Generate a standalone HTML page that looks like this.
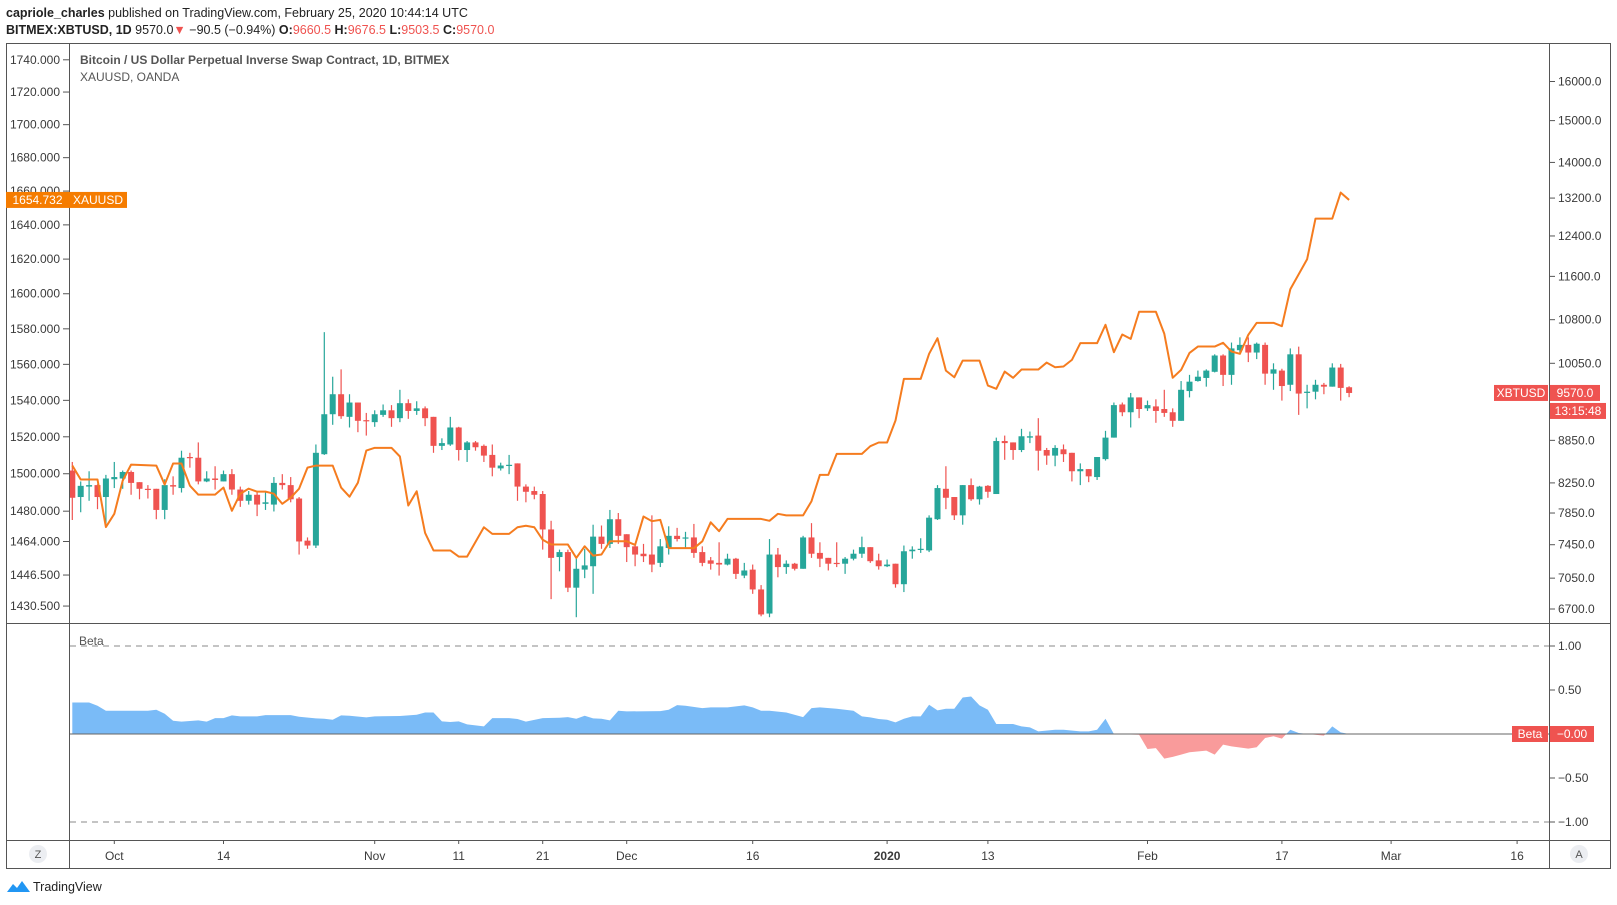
<!DOCTYPE html>
<html><head><meta charset="utf-8">
<style>
html,body{margin:0;padding:0;background:#fff;}
svg{display:block;font-family:"Liberation Sans",Arial,sans-serif;}
.ax{font-size:12px;fill:#3a3a3a;}
</style></head>
<body>
<svg id="chart" width="1617" height="905" viewBox="0 0 1617 905" xmlns="http://www.w3.org/2000/svg">
  <rect x="0" y="0" width="1617" height="905" fill="#fff"/>
  <text x="6" y="17" font-size="12.5" fill="#222"><tspan font-weight="bold">capriole_charles</tspan> published on TradingView.com, February 25, 2020 10:44:14 UTC</text>
  <text x="6" y="34" font-size="12.5" fill="#222"><tspan font-weight="bold">BITMEX:XBTUSD, 1D</tspan> 9570.0<tspan fill="#ef5350">▼</tspan> −90.5 (−0.94%) <tspan font-weight="bold">O:</tspan><tspan fill="#ef5350">9660.5</tspan> <tspan font-weight="bold">H:</tspan><tspan fill="#ef5350">9676.5</tspan> <tspan font-weight="bold">L:</tspan><tspan fill="#ef5350">9503.5</tspan> <tspan font-weight="bold">C:</tspan><tspan fill="#ef5350">9570.0</tspan></text>

  <g id="frame" stroke="#555" stroke-width="1" fill="none">
    <rect x="6.5" y="43.5" width="1604" height="825"/>
    <line x1="69.5" y1="43" x2="69.5" y2="868"/>
    <line x1="1549.5" y1="43" x2="1549.5" y2="868"/>
    <line x1="6" y1="623.5" x2="1611" y2="623.5"/>
    <line x1="6" y1="840.5" x2="1611" y2="840.5"/>
  </g>

  <text x="80" y="64" font-size="12" font-weight="bold" fill="#555">Bitcoin / US Dollar Perpetual Inverse Swap Contract, 1D, BITMEX</text>
  <text x="80" y="81" font-size="12" fill="#555">XAUUSD, OANDA</text>
  <text x="79" y="645" font-size="12" fill="#555">Beta</text>

  <defs>
    <clipPath id="mainClip"><rect x="70" y="44" width="1479" height="579"/></clipPath>
    <clipPath id="posClip"><rect x="70" y="624" width="1479" height="110"/></clipPath>
    <clipPath id="negClip"><rect x="70" y="734" width="1479" height="106"/></clipPath>
  </defs>

  <g id="leftAxis"></g>
  <g id="rightAxis"></g>
  <g id="betaAxis"></g>
  <g id="timeAxis"></g>
  <g id="betaPlot"></g>
  <g id="candles" clip-path="url(#mainClip)"></g>
  <g id="goldLine" clip-path="url(#mainClip)"></g>
  <g id="labels"></g>

  <g>
    <circle cx="38" cy="854" r="9" fill="#eceef2"/>
    <text x="38" y="858" font-size="11" fill="#555" text-anchor="middle">Z</text>
  </g>
  <g>
    <circle cx="1579" cy="854" r="9" fill="#eceef2"/>
    <text x="1579" y="858" font-size="11" fill="#555" text-anchor="middle">A</text>
  </g>
  <g>
    <path d="M7 892 L13 884 L17 888 L22 881 L30 892 Z" fill="#2196f3"/>
    <text x="33" y="891" font-size="12.5" fill="#222">TradingView</text>
  </g>
</svg>
<script>
// ---- data ----
const candleOpen = [8420,8060,8200,8220,8060,8300,8310,8400,8260,8170,8170,7890,8220,8180,8610,8600,8270,8310,8270,8370,8160,8010,8090,7970,7960,8250,8220,8040,7500,7440,8650,9240,9550,9200,9420,9150,9120,9230,9300,9180,9410,9290,9330,9200,8770,8790,9040,8710,8820,8770,8640,8450,8490,8520,8200,8140,8100,7640,7300,7360,6940,7150,7190,7550,7460,7770,7580,7430,7340,7330,7230,7410,7560,7530,7540,7360,7260,7230,7210,7280,7080,7150,6920,6650,7330,7180,7220,7160,7540,7350,7290,7230,7220,7280,7340,7420,7260,7190,7220,6980,7370,7390,7380,7770,8170,8060,7820,8220,8030,8210,8100,8840,8820,8710,8890,8920,8710,8630,8720,8670,8410,8440,8330,8580,8890,9390,9270,9500,9330,9360,9320,9270,9140,9600,9760,9810,9910,10180,9860,10270,10360,10230,10360,9880,9930,9700,10200,9570,9590,9700,9670,9980,9660.5];
const candleHigh = [8540,8270,8410,8230,8360,8540,8420,8420,8260,8220,8170,8300,8340,8700,8670,8820,8410,8480,8420,8440,8200,8140,8140,8130,8330,8370,8330,8060,7540,8790,10580,9830,9950,9550,9420,9260,9300,9390,9380,9620,9470,9440,9360,9200,8880,9200,9050,8840,8840,8790,8790,8530,8640,8520,8230,8200,8140,7750,7390,7390,7280,7400,7700,7690,7890,7850,7580,7460,7460,7820,7520,7680,7660,7610,7710,7430,7300,7480,7340,7290,7230,7210,6970,7520,7410,7260,7230,7560,7720,7480,7290,7480,7300,7390,7550,7420,7340,7270,7220,7440,7430,7530,7820,8220,8480,8060,8220,8310,8210,8220,8890,8920,8820,9020,8980,9180,8740,8780,8790,8670,8520,8440,8610,8990,9420,9420,9570,9500,9450,9470,9620,9330,9760,9860,9930,9950,10200,10200,10400,10490,10490,10400,10400,10050,9960,10300,10330,9700,9780,9730,10050,10040,9676.5];
const candleLow = [7760,7860,8010,7900,7710,8180,8170,8090,8030,8040,7770,7770,8090,8120,8460,8230,8260,8160,8270,8090,7930,7960,7810,7890,7870,8160,7990,7330,7400,7410,8640,9080,9170,9040,8970,8920,9050,9200,9050,9120,9170,9230,9060,8670,8710,8770,8560,8540,8700,8540,8340,8420,8370,8010,7990,8030,7390,6810,7130,6890,6610,7050,6870,7400,7410,7460,7240,7190,7240,7120,7180,7330,7490,7410,7290,7190,7150,7080,7200,7040,7050,6870,6620,6610,7060,7100,7140,7160,7290,7180,7140,7180,7100,7260,7290,7230,7150,7180,6940,6890,7280,7350,7360,7760,7900,7760,7700,8010,7960,8050,8100,8570,8570,8680,8810,8420,8500,8480,8540,8270,8220,8260,8290,8560,8890,9210,9040,9180,9290,9110,9200,9050,9140,9500,9750,9670,9900,9680,9700,10230,10070,10120,9700,9620,9450,9600,9230,9330,9470,9550,9670,9450,9503.5];
const candleClose = [8050,8210,8220,8060,8310,8330,8400,8250,8170,8160,7890,8220,8200,8600,8600,8270,8310,8290,8370,8160,8010,8090,7960,7990,8250,8220,8030,7490,7440,8670,9240,9550,9210,9420,9140,9140,9240,9300,9180,9410,9290,9330,9180,8770,8810,9040,8710,8820,8750,8630,8460,8490,8500,8200,8130,8090,7640,7290,7360,6940,7160,7200,7550,7460,7770,7560,7420,7330,7310,7210,7430,7560,7520,7540,7350,7230,7220,7210,7280,7100,7140,6920,6640,7330,7180,7220,7160,7540,7340,7280,7220,7220,7280,7340,7420,7250,7190,7210,6980,7370,7390,7400,7790,8180,8050,7820,8220,8030,8200,8130,8840,8810,8710,8910,8910,8700,8630,8740,8650,8410,8440,8340,8610,8890,9380,9270,9500,9320,9380,9290,9260,9140,9620,9750,9830,9930,10180,9860,10300,10360,10230,10380,9880,9950,9680,10200,9560,9590,9700,9670,9980,9650,9570];

const goldIdx = [0,1,3,4,5,6,7,10,11,12,13,14,15,17,18,19,20,21,22,23,24,25,26,27,28,29,31,32,33,34,35,36,38,39,40,41,42,43,45,46,47,49,50,52,53,54,55,56,57,59,60,61,62,63,64,65,66,67,68,69,70,71,74,75,76,77,78,82,83,84,85,87,88,89,90,91,94,95,96,97,98,99,101,102,103,104,105,106,108,109,110,111,112,113,115,116,117,118,119,120,122,123,124,125,126,127,129,130,131,132,133,134,136,137,138,139,140,141,143,144,145,146,147,148,150,151,152];
const goldVal = [1504.4,1496.9,1496.9,1471.6,1478.6,1496.3,1504.9,1504.4,1494.2,1505.5,1505.5,1493.6,1488.8,1488.8,1492.6,1480.2,1489.3,1492.0,1490.4,1490.4,1489.3,1483.9,1487.2,1492.0,1503.3,1504.4,1504.4,1492.6,1487.7,1495.2,1512.5,1514.0,1514.0,1509.3,1483.0,1490.6,1468.5,1459.3,1459.3,1456.1,1456.1,1471.5,1468.0,1468.0,1471.5,1472.3,1471.5,1464.9,1462.4,1462.4,1455.4,1461.5,1456.6,1457.2,1464.1,1464.1,1464.1,1462.2,1477.2,1474.7,1475.4,1460.5,1460.5,1464.1,1474.1,1469.4,1475.9,1475.9,1474.9,1478.6,1477.8,1477.8,1485.3,1499.4,1499.4,1510.7,1510.7,1514.9,1516.9,1516.9,1528.9,1551.9,1551.9,1565.9,1574.7,1556.5,1552.8,1562.1,1562.1,1548.2,1546.4,1556.0,1552.5,1557.1,1557.1,1561.0,1558.4,1558.8,1562.5,1571.9,1571.9,1582.3,1566.8,1576.8,1574.3,1589.7,1589.7,1577.2,1552.5,1556.9,1566.4,1570.0,1570.0,1572.1,1567.2,1565.9,1576.6,1583.4,1583.4,1581.5,1602.6,1611.2,1619.9,1643.7,1643.7,1659.1,1654.732];

const betaIdx = [0,2,3,4,9,10,11,12,13,15,16,17,18,19,20,22,23,26,27,29,30,31,32,33,35,36,39,41,42,43,44,45,46,47,49,50,52,53,54,56,58,59,60,61,62,63,64,65,66,70,71,72,73,75,76,78,80,81,82,83,85,87,88,89,91,93,94,95,96,97,98,99,100,101,102,103,104,105,106,107,108,109,110,112,113,114,115,117,118,120,121,122,123,124,127,128,129,130,131,132,133,135,136,137,138,140,141,142,143,144,145,146,149,150,151,152];
const betaVal = [0.358,0.358,0.321,0.264,0.264,0.275,0.230,0.151,0.140,0.155,0.140,0.181,0.181,0.211,0.200,0.200,0.215,0.215,0.196,0.177,0.174,0.162,0.211,0.208,0.189,0.200,0.204,0.219,0.245,0.245,0.143,0.136,0.143,0.109,0.087,0.181,0.181,0.170,0.140,0.181,0.185,0.192,0.174,0.208,0.177,0.174,0.155,0.264,0.257,0.260,0.275,0.328,0.321,0.294,0.302,0.302,0.325,0.302,0.264,0.264,0.245,0.192,0.294,0.302,0.287,0.264,0.200,0.189,0.170,0.162,0.132,0.174,0.200,0.200,0.332,0.268,0.287,0.287,0.415,0.426,0.325,0.275,0.113,0.113,0.087,0.075,0.030,0.049,0.049,0.030,0.030,0.049,0.174,0.000,-0.008,-0.170,-0.160,-0.280,-0.260,-0.234,-0.208,-0.189,-0.234,-0.121,-0.140,-0.166,-0.151,-0.045,-0.026,-0.053,0.049,0.011,-0.019,0.087,0.019,0.000];

const btcTicks = [16000,15000,14000,13200,12400,11600,10800,10050,8850,8250,7850,7450,7050,6700];
const btcTickLabels = ["16000.0","15000.0","14000.0","13200.0","12400.0","11600.0","10800.0","10050.0","8850.0","8250.0","7850.0","7450.0","7050.0","6700.0"];
const goldTicks = [1740,1720,1700,1680,1660,1640,1620,1600,1580,1560,1540,1520,1500,1480,1464,1446.5,1430.5];
const goldTickLabels = ["1740.000","1720.000","1700.000","1680.000","1660.000","1640.000","1620.000","1600.000","1580.000","1560.000","1540.000","1520.000","1500.000","1480.000","1464.000","1446.500","1430.500"];
const betaTicks = [1,0.5,-0.5,-1];
const betaTickLabels = ["1.00","0.50","−0.50","−1.00"];
const timeDays = [0,13,31,41,51,61,76,92,104,123,139,152,167];
const timeLabels = ["Oct","14","Nov","11","21","Dec","16","2020","13","Feb","17","Mar","16"];

// ---- scales ----
const NS = "http://www.w3.org/2000/svg";
function xIdx(i){ return 72.3 + 8.4*i; }
function xDay(d){ return xIdx(d+5); }
function yBtc(p){ return 81.5 + 606*Math.log(16000/p); }
function yGold(p){ return 59.8 + 2789*Math.log(1740/p); }
function yBeta(b){ return 734 - 88*b; }
function mk(tag, attrs, parent){
  const e = document.createElementNS(NS, tag);
  for (const k in attrs) e.setAttribute(k, attrs[k]);
  parent.appendChild(e); return e;
}

// left axis
const la = document.getElementById('leftAxis');
goldTicks.forEach((v,i)=>{
  const y = yGold(v);
  const t = mk('line',{x1:63,x2:69,y1:y,y2:y,stroke:'#555'},la);
  
  
  const tx = mk('text',{x:60,y:y+4,'text-anchor':'end','class':'ax'},la);
  
  
  tx.textContent = goldTickLabels[i];
});
// right axis
const ra = document.getElementById('rightAxis');
btcTicks.forEach((v,i)=>{
  const y = yBtc(v);
  const t = mk('line',{x1:1549,x2:1555,y1:y,y2:y,stroke:'#555'},ra);
  
  
  const tx = mk('text',{x:1558,y:y+4,'class':'ax'},ra);
  
  
  tx.textContent = btcTickLabels[i];
});
// beta axis
const ba = document.getElementById('betaAxis');
betaTicks.forEach((v,i)=>{
  const y = yBeta(v);
  const t = mk('line',{x1:1549,x2:1555,y1:y,y2:y,stroke:'#555'},ba);
  
  
  const tx = mk('text',{x:1558,y:y+4,'class':'ax'},ba);
  
  
  tx.textContent = betaTickLabels[i];
});
[1,-1].forEach(v=>{
  const l = mk('line',{x1:70,x2:1549,y1:yBeta(v),y2:yBeta(v),stroke:'#888','stroke-dasharray':'6,5'},ba);
  
  
});
// time axis
const ta = document.getElementById('timeAxis');
timeDays.forEach((d,i)=>{
  const x = xDay(d);
  const t = mk('line',{x1:x,x2:x,y1:840,y2:844,stroke:'#555'},ta);
  
  
  const tx = mk('text',{x:x,y:860,'text-anchor':'middle','class':'ax'},ta);
  if (timeLabels[i]==='2020') tx.setAttribute('font-weight','bold');
  
  
  tx.textContent = timeLabels[i];
});

// beta area
const bp = document.getElementById('betaPlot');
let d = 'M' + xIdx(betaIdx[0]) + ' ' + yBeta(0);
betaIdx.forEach((ix,i)=>{ d += ' L' + xIdx(ix) + ' ' + yBeta(betaVal[i]); });
d += ' L' + xIdx(betaIdx[betaIdx.length-1]) + ' ' + yBeta(0) + ' Z';
const pos = mk('path',{d:d,fill:'#7abbf7','clip-path':'url(#posClip)'},bp);


const neg = mk('path',{d:d,fill:'#f99b9b','clip-path':'url(#negClip)'},bp);


const zl = mk('line',{x1:70,x2:1549,y1:yBeta(0),y2:yBeta(0),stroke:'#666'},bp);



// candles
const cg = document.getElementById('candles');
candleClose.forEach((c,i)=>{
  const o = candleOpen[i], h = candleHigh[i], l = candleLow[i];
  const col = c >= o ? '#26a69a' : '#ef5350';
  const x = xIdx(i);
  const g = mk('g',{},cg);
  
  
  mk('line',{x1:x,x2:x,y1:yBtc(h),y2:yBtc(l),stroke:col,'stroke-width':1.2},g);
  const yt = yBtc(Math.max(o,c)), yb = yBtc(Math.min(o,c));
  mk('rect',{x:x-3,y:yt,width:6,height:Math.max(1.2,yb-yt),fill:col},g);
});

// gold line
const gl = document.getElementById('goldLine');
let gd = '';
goldIdx.forEach((ix,i)=>{ gd += (i?' L':'M') + xIdx(ix) + ' ' + yGold(goldVal[i]); });
const gp = mk('path',{d:gd,fill:'none',stroke:'#f57c1f','stroke-width':2,'stroke-linejoin':'round'},gl);



// price labels
const lb = document.getElementById('labels');
function box(x,y,w,h,fill,text,name,anchor,tx){
  const g = mk('g',{},lb);
  
  
  mk('rect',{x:x,y:y,width:w,height:h,fill:fill},g);
  const t = mk('text',{x:tx,y:y+h-4,'font-size':12,fill:'#fff','text-anchor':anchor},g);
  t.textContent = text;
}
const gLast = yGold(goldVal[goldVal.length-1]);
box(6,gLast-8,63,16,'#f57c00','1654.732','xauusd-price-label','middle',37.5);
box(69,gLast-8,58,16,'#f57c00','XAUUSD','xauusd-name-label','middle',98);
const bLast = yBtc(candleClose[candleClose.length-1]);
box(1494,bLast-8,54,16,'#ef5350','XBTUSD','xbtusd-name-label','middle',1521);
box(1550,bLast-8,50,16,'#ef5350','9570.0','xbtusd-price-label','middle',1575);
box(1550,bLast+10,56,16,'#ef5350','13:15:48','bar-countdown-label','middle',1578);
box(1512,yBeta(0)-8,36,16,'#ef5350','Beta','beta-name-label','middle',1530);
box(1550,yBeta(0)-8,44,16,'#ef5350','−0.00','beta-value-label','middle',1572);
</script>
</body></html>
